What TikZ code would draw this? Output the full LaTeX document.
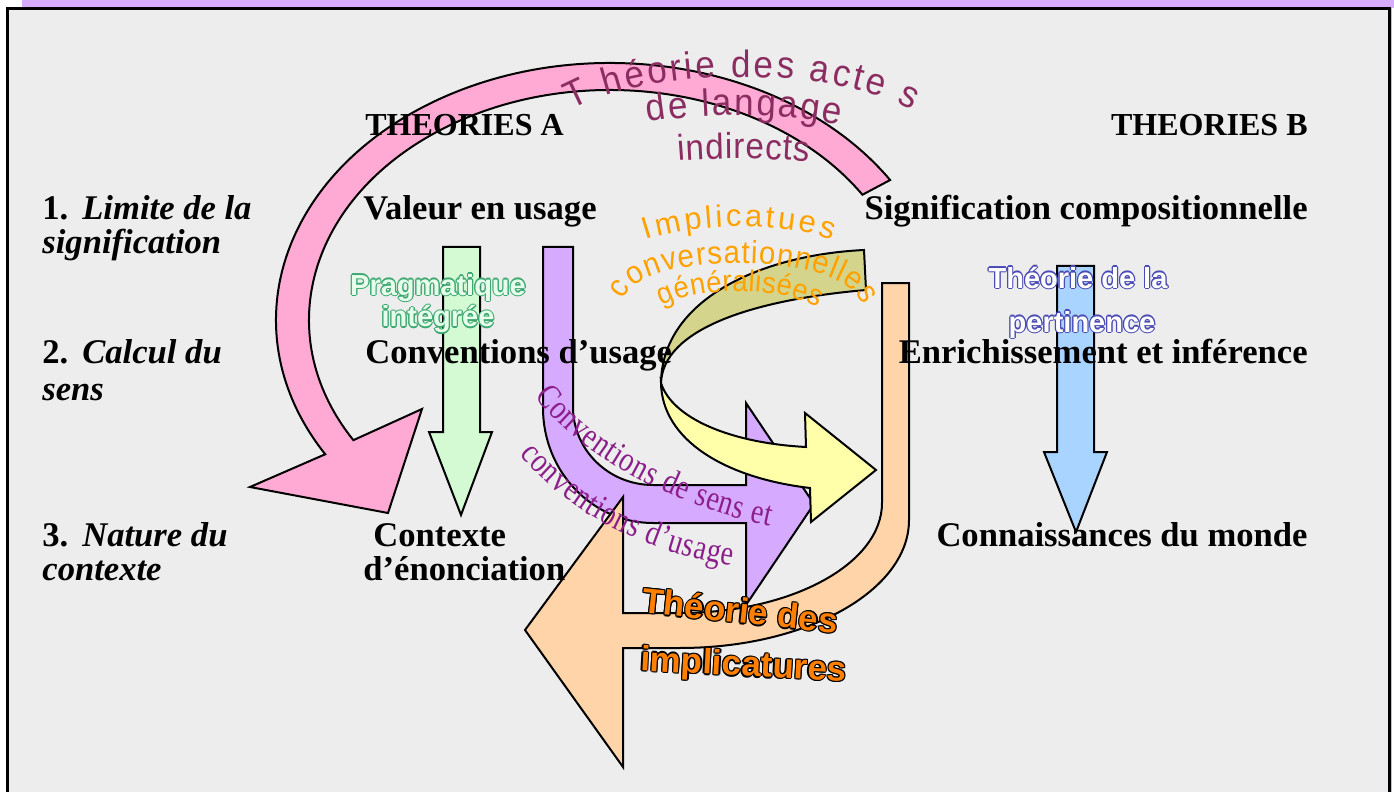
\documentclass[tikz,border=0pt]{standalone}
\usepackage{fontspec}
\setmainfont{Liberation Serif}
\setsansfont{Liberation Sans}
\newfontfamily\narrowserif[FakeStretch=0.8]{Liberation Serif}
\newfontfamily\narrowsans[FakeStretch=0.92]{Liberation Sans}
\usetikzlibrary{positioning, decorations.text}

\definecolor{bandpurple}{HTML}{D8ACFC}
\definecolor{panelgray}{HTML}{EDEDED}
\definecolor{pinkarc}{HTML}{FFAAD4}
\definecolor{greenarr}{HTML}{D4FAD4}
\definecolor{lilacarr}{HTML}{D6AAFF}
\definecolor{olivearr}{HTML}{D4D48C}
\definecolor{yellowarr}{HTML}{FFFFAA}
\definecolor{peacharr}{HTML}{FFD4A8}
\definecolor{bluearr}{HTML}{A8D4FF}
\definecolor{maroontxt}{HTML}{8C2D62}
\definecolor{ambertxt}{HTML}{FFA200}
\definecolor{violettxt}{HTML}{8B1E8B}
\definecolor{greentxt}{HTML}{3FA872}
\definecolor{palegreen}{HTML}{E6FFEA}
\definecolor{bluetxt}{HTML}{4B4BB5}
\definecolor{orangetxt}{HTML}{FF8000}

% hollow / outlined lettering
\newcommand{\wordart}[3]{{\setbox0=\hbox{#3}%
  \rlap{\color{#1}\kern.6pt\copy0}%
  \rlap{\color{#1}\kern-.6pt\copy0}%
  \rlap{\color{#1}\raise.6pt\copy0}%
  \rlap{\color{#1}\lower.6pt\copy0}%
  \rlap{\color{#1}\kern.45pt\raise.45pt\copy0}%
  \rlap{\color{#1}\kern-.45pt\raise.45pt\copy0}%
  \rlap{\color{#1}\kern.45pt\lower.45pt\copy0}%
  \rlap{\color{#1}\kern-.45pt\lower.45pt\copy0}%
  {\color{#2}\box0}}}

\begin{document}
\begin{tikzpicture}[
    x=0.5pt, y=-0.5pt,
    % Node styles
    coltxt/.style={
        font=\fontsize{17.3}{20}\selectfont\bfseries,
        inner sep=0pt,
        anchor=base west
    },
    coltxtB/.style={
        coltxt,
        anchor=base east
    },
    headtxt/.style={
        coltxt,
        font=\fontsize{16}{20}\selectfont\bfseries
    },
    rowtxt/.style={
        font=\fontsize{17.3}{20}\selectfont\bfseries,
        inner sep=0pt,
        anchor=base west
    },
    walabel/.style={
        font=\sffamily\bfseries\fontsize{14.5}{17}\selectfont,
        inner sep=0pt,
        anchor=base
    },
    bigwa/.style={
        font=\sffamily\bfseries\fontsize{17.5}{20}\selectfont,
        inner sep=0pt,
        anchor=base
    },
    arrowband/.style={
        draw=black,
        line width=1pt,
        line join=miter
    },
    arctxt/.style={
        decorate,
        decoration={text along path, text align={fit to path}}
    }
]
\useasboundingbox (0,0) rectangle (1394,792);

% --- Frame ---
\fill[bandpurple] (22,0) rectangle (1394,8);
\fill[bandpurple] (1389,0) rectangle (1392,792);
\fill[panelgray] (7,9) rectangle (1389,792);
\draw[line width=1.5pt] (7,795) -- (7,9) -- (1389,9) -- (1389,795);

% --- Arrows ---
% big pink loop
\draw[arrowband, fill=pinkarc]
    ([shift={(-33:334 and 257)}]610,320)
    arc[start angle=-33, end angle=-211.5, x radius=334, y radius=257]
    -- (250,487) -- (388,513) -- (422,409)
    -- ([shift={(-211.5:301 and 230)}]610,320)
    arc[start angle=-211.5, end angle=-33, x radius=301, y radius=230]
    -- cycle;

% green straight arrow
\draw[arrowband, fill=greenarr] (443,247) -- (480,247) -- (480,432) -- (492,432)
    -- (461,515) -- (429,432) -- (443,432) -- cycle;

% lilac bent arrow
\draw[arrowband, fill=lilacarr] (543,247) -- (543,408)
    arc[start angle=180, end angle=90, x radius=110, y radius=115]
    -- (746,523) -- (746,605) -- (814,504) -- (746,403) -- (746,485) -- (653,485)
    arc[start angle=90, end angle=180, x radius=80, y radius=78]
    -- (573,247) -- cycle;

% peach bent arrow
\draw[arrowband, fill=peacharr] (909,283) -- (909,520)
    arc[start angle=0, end angle=90, x radius=229, y radius=128]
    -- (623,648) -- (623,767) -- (525,630) -- (623,497) -- (623,613) -- (680,613)
    arc[start angle=90, end angle=0, x radius=202, y radius=110]
    -- (882,283) -- cycle;

% twisted ribbon: back side then front side
\draw[arrowband, fill=olivearr] (864,250) .. controls (760,255) and (662,300) .. (661,383)
    .. controls (663,330) and (750,300) .. (866,290) -- cycle;
\draw[arrowband, fill=yellowarr] (661,383) .. controls (662,440) and (725,478) .. (810,488)
    -- (811,522) -- (876,470) -- (805,413) -- (806,447)
    .. controls (730,443) and (672,418) .. (661,383) -- cycle;

% blue straight arrow
\draw[arrowband, fill=bluearr] (1057,266) -- (1094,266) -- (1094,452) -- (1107,452)
    -- (1076,532) -- (1044,452) -- (1057,452) -- cycle;

% --- Column headings and entries ---
\node[headtxt] (thA) at (365,136) {THEORIES A};
\node[headtxt, anchor=base east] (thB) at (1308,136) {THEORIES B};

\node[coltxt] (valA) at (363,220) {Valeur en usage};
\node[coltxtB] (sigB) at (1308,220) {Signification compositionnelle};

\node[coltxt] (convA) at (365,364) {Conventions d’usage};
\node[coltxtB] (enrB) at (1308,364) {Enrichissement et inférence};

\node[coltxt] (ctxA) at (373,546) {Contexte};
\node[coltxt] (ctxA2) at ([yshift=-17pt]ctxA.base west) {\kern-5pt d’énonciation};
\node[coltxtB] (monB) at (1308,546) {Connaissances du monde};

% --- Row labels ---
\node[rowtxt] (lim) at (42,220) {1.\hspace{7pt}\textit{Limite de la}};
\node[rowtxt] (lim2) at ([yshift=-17pt]lim.base west) {\textit{signification}};
\node[rowtxt] (calc) at (42,364) {2.\hspace{7pt}\textit{Calcul du}};
\node[rowtxt] (calc2) at ([yshift=-18pt]calc.base west) {\textit{sens}};
\node[rowtxt] (nat) at (42,546) {3.\hspace{7pt}\textit{Nature du}};
\node[rowtxt] (nat2) at ([yshift=-17pt]nat.base west) {\textit{contexte}};

% --- Theory labels ---
\node[walabel] (prag1) at (438,295) {\wordart{greentxt}{palegreen}{Pragmatique}};
\node[walabel] (prag2) at (438,327) {\wordart{greentxt}{palegreen}{intégrée}};

\node[walabel] (pert1) at (1078,288) {\wordart{bluetxt}{white}{Théorie de la}};
\node[walabel] (pert2) at (1082,332) {\wordart{bluetxt}{white}{pertinence}};

\node[bigwa, rotate=-6] (impl1) at (739,623) {\wordart{black}{orangetxt}{Théorie des}};
\node[bigwa, rotate=-3] (impl2) at (743,676) {\wordart{black}{orangetxt}{implicatures}};

% arched lettering
\path[arctxt, decoration={text color=maroontxt,
    text={|\narrowsans\fontsize{19}{20}\selectfont|T héorie des acte s}}]
    (572,110) .. controls (650,66) and (834,66) .. (912,110);
\path[arctxt, decoration={text color=maroontxt,
    text={|\narrowsans\fontsize{19}{20}\selectfont|de langage}}]
    (648,122) .. controls (705,113) and (785,113) .. (840,125);
\path[arctxt, decoration={text color=maroontxt,
    text={|\narrowsans\fontsize{18}{20}\selectfont|indirects}}]
    (678,161) .. controls (715,158) and (770,158) .. (809,162);

\path[arctxt, decoration={text color=ambertxt,
    text={|\sffamily\fontsize{15.5}{18}\selectfont|Implicatues}}]
    (646,240) .. controls (700,222) and (785,222) .. (832,240);
\path[arctxt, decoration={text color=ambertxt,
    text={|\narrowsans\fontsize{16}{17}\selectfont|conversationnelles}}]
    (624,300) .. controls (638,250) and (846,250) .. (863,305);
\path[arctxt, decoration={text color=ambertxt,
    text={|\narrowsans\fontsize{15}{17}\selectfont|généralisées}}]
    (662,306) .. controls (700,286) and (780,286) .. (818,308);

\path[arctxt, decoration={text color=violettxt,
    text={|\narrowserif\fontsize{17.5}{20}\selectfont|Conventions de sens et}}]
    (535,396) .. controls (585,462) and (680,507) .. (770,526);
\path[arctxt, decoration={text color=violettxt,
    text={|\narrowserif\fontsize{17.5}{20}\selectfont|conventions d’usage}}]
    (520,454) .. controls (570,516) and (648,552) .. (732,566);

\end{tikzpicture}
\end{document}
